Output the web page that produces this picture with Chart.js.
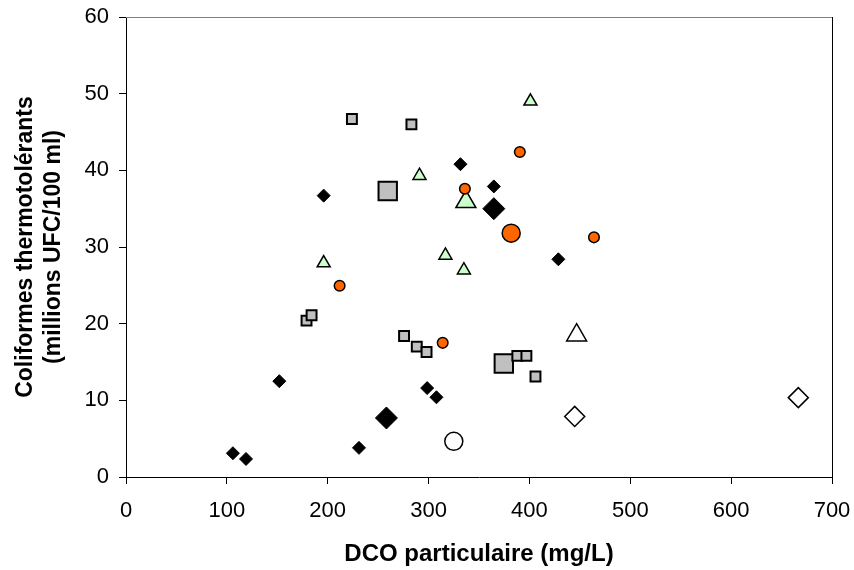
<!DOCTYPE html>
<html>
<head>
<meta charset="utf-8">
<script src="https://cdn.jsdelivr.net/npm/chart.js@4/dist/chart.umd.min.js"></script>
<style>
  html, body { margin: 0; padding: 0; background: #fff; }
  #wrap { width: 854px; height: 570px; }
</style>
</head>
<body>
<div id="wrap"><canvas id="c" width="854" height="570"></canvas></div>
<script>
// ---- Data (DCO particulaire mg/L, Coliformes millions UFC/100 ml) ----
const xTicks = [0, 100, 200, 300, 400, 500, 600, 700];
const yTicks = [0, 10, 20, 30, 40, 50, 60];

const diamondSmallX = [106, 119, 152, 196, 231, 298.6, 307.8, 331.6, 364.7, 428.7];
const diamondSmallY = [3.1, 2.35, 12.5, 36.7, 3.8, 11.6, 10.4, 40.8, 37.9, 28.4];

const diamondBigX = [258.2, 364.7];
const diamondBigY = [7.7, 35.0];

const squareSmallX = [179, 184, 224, 283, 275.7, 288.3, 298, 388, 397, 406];
const squareSmallY = [20.4, 21.1, 46.7, 46.0, 18.4, 17.0, 16.3, 15.8, 15.8, 13.1];

const squareBigX = [259.5, 374.6];
const squareBigY = [37.3, 14.8];

const triangleSmallX = [196, 291, 316.7, 335, 401];
const triangleSmallY = [27.9, 39.3, 28.9, 26.97, 49.0];

const triangleBigX = [337];
const triangleBigY = [35.9];

const circleSmallX = [211.8, 314, 336, 390.5, 464];
const circleSmallY = [24.95, 17.5, 37.6, 42.4, 31.26];

const circleBigX = [381.9];
const circleBigY = [31.8];

const openCircleX = [325];
const openCircleY = [4.65];

const openTriangleX = [446.8];
const openTriangleY = [18.5];

const openDiamondX = [444.9, 666.6];
const openDiamondY = [7.9, 10.35];

function pts(xs, ys) { return xs.map((x, i) => ({ x: x, y: ys[i] })); }

const FONT = '"Liberation Sans", Arial, sans-serif';

function ds(label, xs, ys, style, radius, fill, bw) {
  return {
    label: label,
    data: pts(xs, ys),
    pointStyle: style,
    pointRadius: radius,
    pointHoverRadius: radius,
    backgroundColor: fill,
    borderColor: '#000000',
    pointBorderWidth: bw,
    borderWidth: bw,
    showLine: false
  };
}

const borderPlugin = {
  id: 'plotBorder',
  beforeDatasetsDraw(chart) {
    const { ctx, chartArea: a } = chart;
    ctx.save();
    ctx.lineWidth = 1;
    ctx.strokeStyle = '#808080';
    ctx.beginPath();
    ctx.moveTo(a.left, a.top + 0.5);
    ctx.lineTo(a.right, a.top + 0.5);
    ctx.stroke();
    ctx.strokeStyle = '#000000';
    ctx.beginPath();
    ctx.moveTo(a.right + 0.5, a.top);
    ctx.lineTo(a.right + 0.5, a.bottom);
    ctx.stroke();
    ctx.restore();
  }
};

new Chart(document.getElementById('c'), {
  type: 'scatter',
  data: {
    datasets: [
      ds('circleSmall', circleSmallX, circleSmallY, 'circle', 5.3, '#FF6600', 1.5),
      ds('circleBig', circleBigX, circleBigY, 'circle', 9, '#FF6600', 1.5),
      ds('diamondSmall', diamondSmallX, diamondSmallY, 'rectRot', 6.5, '#000000', 1),
      ds('diamondBig', diamondBigX, diamondBigY, 'rectRot', 11, '#000000', 1),
      ds('squareSmall', squareSmallX, squareSmallY, 'rect', 7, '#C0C0C0', 2),
      ds('squareBig', squareBigX, squareBigY, 'rect', 13, '#C0C0C0', 2),
      ds('triangleSmall', triangleSmallX, triangleSmallY, 'triangle', 7.5, '#CCFFCC', 1.5),
      ds('triangleBig', triangleBigX, triangleBigY, 'triangle', 11.5, '#CCFFCC', 1.5),
      ds('openCircle', openCircleX, openCircleY, 'circle', 9, '#FFFFFF', 1.5),
      ds('openTriangle', openTriangleX, openTriangleY, 'triangle', 11.5, '#FFFFFF', 1.5),
      ds('openDiamond', openDiamondX, openDiamondY, 'rectRot', 10, '#FFFFFF', 1.5)
    ]
  },
  options: {
    responsive: false,
    animation: false,
    layout: { padding: { top: 17, right: 22, left: 0, bottom: 0 } },
    plugins: { legend: { display: false }, tooltip: { enabled: false } },
    scales: {
      x: {
        type: 'linear',
        min: 0, max: 700,
        afterBuildTicks: (s) => { s.ticks = xTicks.map(v => ({ value: v })); },
        afterFit: (s) => { s.height = 93; s.paddingLeft = 0; s.paddingRight = 0; s.paddingTop = 0; s.paddingBottom = 0; },
        grid: { display: true, drawOnChartArea: false, drawTicks: true, tickLength: 7, color: '#000000' },
        border: { display: true, color: '#000000', width: 1 },
        ticks: { color: '#000000', font: { family: FONT, size: 22 }, padding: 14, maxRotation: 0 },
        title: {
          display: true, text: 'DCO particulaire (mg/L)', color: '#000000',
          font: { family: FONT, size: 24, weight: 'bold', lineHeight: 1.2 },
          padding: { top: 0, bottom: 1 }
        }
      },
      y: {
        type: 'linear',
        min: 0, max: 60,
        afterBuildTicks: (s) => { s.ticks = yTicks.map(v => ({ value: v })); },
        afterFit: (s) => { s.width = 126; s.paddingLeft = 0; s.paddingRight = 0; s.paddingTop = 0; s.paddingBottom = 0; },
        grid: { display: true, drawOnChartArea: false, drawTicks: true, tickLength: 7, color: '#000000' },
        border: { display: true, color: '#000000', width: 1 },
        ticks: { color: '#000000', font: { family: FONT, size: 22 }, padding: 10 },
        title: {
          display: true, text: ['Coliformes thermotolérants', '(millions UFC/100 ml)'], color: '#000000',
          font: { family: FONT, size: 23, weight: 'bold', lineHeight: 1.25 },
          padding: { top: 11, bottom: 0 }
        }
      }
    }
  },
  plugins: [borderPlugin]
});
</script>
</body>
</html>
